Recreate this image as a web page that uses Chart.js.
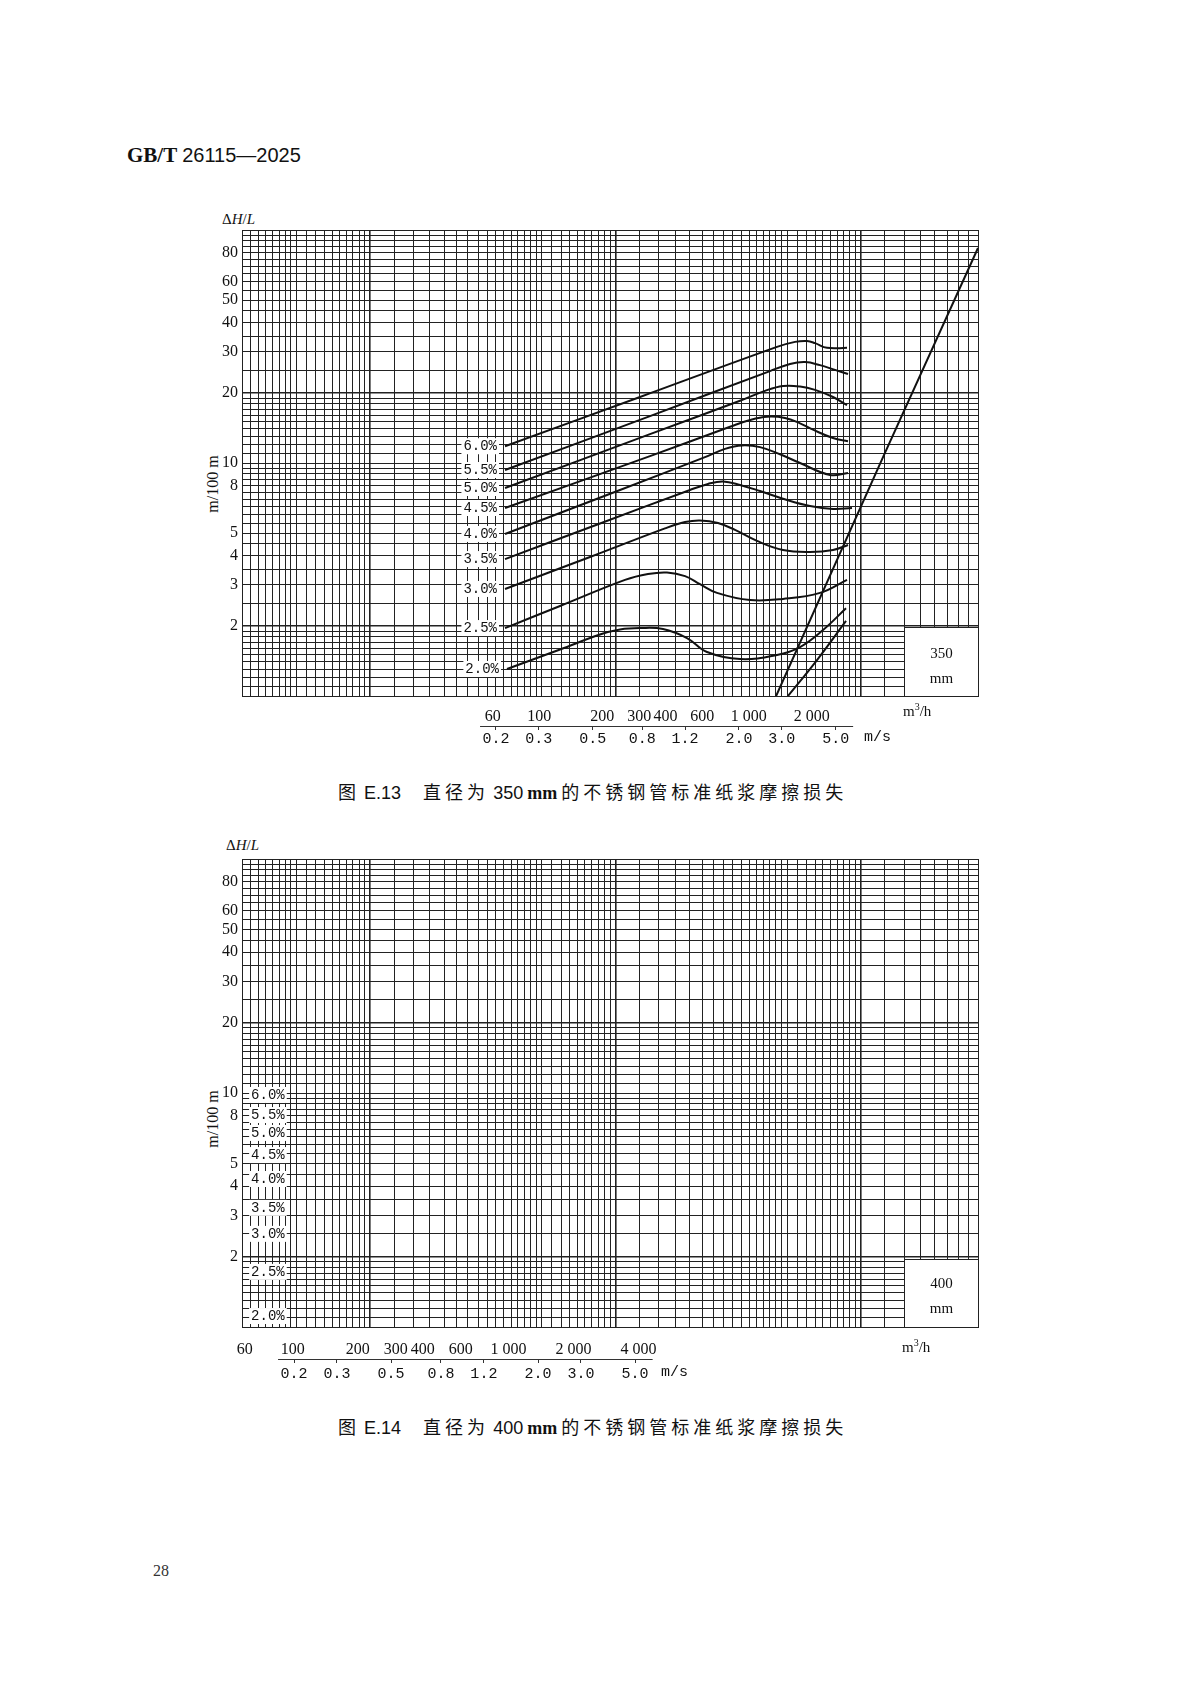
<!DOCTYPE html>
<html lang="zh">
<head>
<meta charset="utf-8">
<title>GB/T 26115—2025 图 E.13 / 图 E.14</title>
<script src="https://cdn.jsdelivr.net/npm/chart.js@4/dist/chart.umd.min.js"></script>
<style>
  html, body { margin:0; padding:0; background:#fff; }
  #page { position:relative; width:1200px; height:1696px; overflow:hidden; background:#fff; color:#111; }
  .t { position:absolute; white-space:nowrap; }
  canvas { position:absolute; left:0; }
  .hdr { font-size:20px; line-height:24px; }
  .hdr b { font-family:"Liberation Serif", serif; font-size:21px; }
  .hdr span { font-family:"Liberation Sans", sans-serif; }
  .cap { font-family:"Noto Sans CJK SC", sans-serif; font-size:18px; line-height:24px; color:#111; }
  .cap .cj { letter-spacing:4px; }
  .cap .la { font-family:"Liberation Sans", sans-serif; }
  .cap .mm { font-family:"Liberation Serif", serif; font-weight:bold; }
  .serif { font-family:"Liberation Serif", serif; font-size:15px; line-height:18px; }
  .mono { font-family:"Liberation Mono", monospace; font-size:15px; line-height:18px; }
  .box { position:absolute; box-sizing:border-box; background:#fff; border:1px solid #222;
         font-family:"Liberation Serif", serif; font-size:15px; text-align:center; }
  .box div { position:absolute; left:0; right:0; line-height:18px; }
  .ylab { font-family:"Liberation Serif", serif; font-size:16px; line-height:18px;
          transform:translate(-50%,-50%) rotate(-90deg); }
  .dh { font-family:"Liberation Serif", serif; font-size:15px; line-height:18px; }
  .pn { font-family:"Liberation Serif", serif; font-size:16px; line-height:18px; color:#333; }
</style>
</head>
<body>
<div id="page">
  <div class="t hdr" style="left:127px;top:143px;"><b>GB/T</b> <span>26115—2025</span></div>

  <!-- Figure E.13 -->
  <div class="t dh" style="left:222px;top:210px;">Δ<i>H</i>/<i>L</i></div>
  <div class="t ylab" style="left:213px;top:484px;">m/100 m</div>
  <canvas id="c350" width="1200" height="560" style="top:200px;width:1200px;height:560px;"></canvas>
  <div class="box" style="left:904px;top:627px;width:75px;height:70px;"><div style="top:16px;">350</div><div style="top:41px;">mm</div></div>
  <div class="t serif" style="left:903px;top:698px;">m<sup style="font-size:10px;">3</sup>/h</div>
  <div class="t mono" style="left:864px;top:729px;">m/s</div>
  <div class="t cap" style="left:338px;top:779px;"><span class="cj">图</span> <span class="la">E.13</span><span style="display:inline-block;width:22px;"></span><span class="cj">直径为</span> <span class="la">350</span> <span class="mm">mm</span> <span class="cj">的不锈钢管标准纸浆摩擦损失</span></div>

  <!-- Figure E.14 -->
  <div class="t dh" style="left:226px;top:836px;">Δ<i>H</i>/<i>L</i></div>
  <div class="t ylab" style="left:213px;top:1119px;">m/100 m</div>
  <canvas id="c400" width="1200" height="570" style="top:830px;width:1200px;height:570px;"></canvas>
  <div class="box" style="left:904px;top:1259px;width:75px;height:69px;"><div style="top:14px;">400</div><div style="top:39px;">mm</div></div>
  <div class="t serif" style="left:902px;top:1334px;">m<sup style="font-size:10px;">3</sup>/h</div>
  <div class="t mono" style="left:661px;top:1364px;">m/s</div>
  <div class="t cap" style="left:338px;top:1414px;"><span class="cj">图</span> <span class="la">E.14</span><span style="display:inline-block;width:22px;"></span><span class="cj">直径为</span> <span class="la">400</span> <span class="mm">mm</span> <span class="cj">的不锈钢管标准纸浆摩擦损失</span></div>

  <div class="t pn" style="left:153px;top:1562px;">28</div>
</div>

<script>
// ---------------- data ----------------
const concLabels = ['6.0%', '5.5%', '5.0%', '4.5%', '4.0%', '3.5%', '3.0%', '2.5%', '2.0%'];

const headTicks = [2, 3, 4, 5, 8, 10, 20, 30, 40, 50, 60, 80];
const flowTicks350 = [60, 100, 200, 300, 400, 600, 1000, 2000];
const flowTicks400 = [60, 100, 200, 300, 400, 600, 1000, 2000, 4000];
const velocityTicks = [0.2, 0.3, 0.5, 0.8, 1.2, 2.0, 3.0, 5.0];

// printed log-paper rulings (steps inside one decade)
const paperSteps = [1, 1.25, 1.5, 1.75, 2, 2.25, 2.5, 2.75, 3, 3.25, 3.5, 3.75, 4, 4.25, 4.5, 4.75,
                    5, 5.5, 6, 6.5, 7, 7.5, 8, 8.5, 9, 9.5];
const paperDecades = [0.1, 1, 10, 100];

// axis ranges (flow m3/h, velocity m/s, head m/100 m)
const flowRange350 = [3.81, 12416];
const velRange350 = [0.01803, 19.26];
const flowRange400 = [58.2, 149800];
const velRange400 = [0.1224, 127.2];
const velAxisSpan = [0.172, 5.9];

// Figure E.13 curves: flow (m3/h) / head loss (m/100 m)
const flow60 = [68.6, 302.5, 1363, 1662, 1896, 2070, 2362, 2943];
const head60 = [11.8, 19.2, 31.5, 33.1, 33.4, 32.7, 31.2, 31.2];
const flow55 = [68.6, 337.6, 1262, 1573, 1855, 2187, 2579, 2975];
const head55 = [9.33, 15.9, 24.8, 26.6, 27.1, 26.3, 25.1, 24.1];
const flow50 = [68.6, 337.6, 907.8, 1195, 1456, 1756, 2070, 2523, 2943];
const head50 = [7.81, 13.3, 18.5, 20.4, 21.4, 21.3, 20.6, 19.2, 17.7];
const flow45 = [68.6, 337.6, 813.5, 1013, 1222, 1489, 1756, 2025, 2523, 2975];
const head45 = [6.41, 10.7, 14.3, 15.3, 15.8, 15.6, 14.8, 13.9, 12.8, 12.4];
const flow40 = [68.6, 242.8, 617.9, 769.9, 927.9, 1131, 1409, 1756, 2441, 2975];
const head40 = [4.96, 7.66, 10.6, 11.5, 11.9, 11.7, 10.9, 10.0, 8.88, 9.06];
const flow35 = [68.6, 194.9, 524.0, 638.7, 753.2, 907.8, 1131, 1522, 1959, 2523, 3109];
const head35 = [3.87, 5.50, 7.66, 8.13, 8.33, 8.05, 7.58, 6.94, 6.54, 6.35, 6.41];
const flow30 = [68.6, 174.6, 398.1, 496.2, 584.9, 712.9, 859.4, 1094, 1456, 1959, 2523, 2975];
const head30 = [2.88, 3.95, 5.24, 5.58, 5.67, 5.53, 5.16, 4.63, 4.23, 4.15, 4.23, 4.45];
const flow25 = [68.6, 125.6, 256.5, 330.3, 406.9, 496.2, 584.9, 705.1, 1013, 1456, 2187, 2943];
const head25 = [1.957, 2.434, 3.15, 3.34, 3.39, 3.27, 3.02, 2.77, 2.58, 2.61, 2.77, 3.15];
const flow20 = [70.1, 125.6, 194.9, 242.8, 302.5, 389.4, 507.0, 631.7, 907.8, 1363, 1756, 2261, 2911];
const head20 = [1.306, 1.583, 1.836, 1.929, 1.957, 1.938, 1.773, 1.544, 1.441, 1.500, 1.622, 1.919, 2.38];
const flowLow = [1538, 2116, 2911];
const headLow = [1.0, 1.427, 2.10];
const flowLimit = [1350, 4372, 12416];
const headLimit = [1.0, 10.6, 83.7];

// Figure E.14: only the consistency tags are printed
const tagFlow400 = 100;
const tagHead400 = [9.81, 8.05, 6.75, 5.43, 4.29, 3.23, 2.50, 1.72, 1.114];

// ---------------- helpers ----------------
function paperGrid(factor, lo, hi) {
  const out = [];
  paperDecades.forEach(d => paperSteps.forEach(m => {
    const v = Math.round(d * m * factor * 1e6) / 1e6;
    if (v >= lo - 1e-9 && v <= hi + 1e-9) out.push(v);
  }));
  return out;
}
const xPaperGrid = paperGrid(1, 0.3, 300);
const yPaperGrid = paperGrid(2, 1, 100);

function isDecade(v, factor) {
  if (!v) return false;
  const l = Math.log10(v / factor);
  return Math.abs(l - Math.round(l)) < 1e-6;
}
function fmtFlow(v) {
  return String(Math.round(v)).replace(/\B(?=(\d{3})+(?!\d))/g, ' ');
}
function pts(xs, ys) { return xs.map((x, i) => ({ x: x, y: ys[i] })); }

const tagPlugin = {
  id: 'seriesTags',
  afterDatasetsDraw(chart) {
    const ctx = chart.ctx;
    ctx.save();
    ctx.font = '14px "Liberation Mono", monospace';
    ctx.textAlign = 'right';
    ctx.textBaseline = 'middle';
    chart.data.datasets.forEach((ds, i) => {
      if (!ds.tag) return;
      const p = chart.getDatasetMeta(i).data[0];
      if (!p) return;
      const w = ctx.measureText(ds.label).width;
      const x = p.x - 8, y = p.y;
      ctx.fillStyle = '#fff';
      ctx.fillRect(x - w - 2, y - 8, w + 4, 16);
      ctx.fillStyle = '#111';
      ctx.fillText(ds.label, x, y);
    });
    ctx.restore();
  }
};

const velLinePlugin = {
  id: 'velLine',
  afterDraw(chart, args, opts) {
    const s = chart.scales.xv;
    const ctx = chart.ctx;
    const y = Math.round(s.top) + 0.5;
    ctx.save();
    ctx.strokeStyle = '#333';
    ctx.lineWidth = 1.2;
    ctx.beginPath();
    ctx.moveTo(s.getPixelForValue(opts.span[0]), y);
    ctx.lineTo(s.getPixelForValue(opts.span[1]), y);
    ctx.stroke();
    ctx.restore();
  }
};

function buildChart(id, o) {
  return new Chart(document.getElementById(id), {
    type: 'line',
    data: { datasets: o.datasets },
    options: {
      responsive: false,
      animation: false,
      events: [],
      layout: { padding: { left: 0, right: 1200 - 978, top: o.padTop, bottom: 0 } },
      elements: {
        point: { radius: 0 },
        line: { borderColor: '#111', borderWidth: 2, tension: 0.4, fill: false }
      },
      plugins: {
        legend: { display: false },
        tooltip: { enabled: false },
        velLine: { span: velAxisSpan }
      },
      scales: {
        y: {
          type: 'logarithmic', position: 'left', min: 1, max: 100,
          afterBuildTicks: ax => { ax.ticks = yPaperGrid.map(v => ({ value: v })); },
          afterFit: ax => { ax.width = 242; },
          grid: { color: '#222', lineWidth: c => isDecade(c.tick && c.tick.value, 2) ? 1.6 : 1, drawTicks: false },
          border: { display: false },
          ticks: {
            autoSkip: false, padding: 4, color: '#111',
            font: { family: 'Liberation Serif', size: 16 },
            callback: v => headTicks.some(t => Math.abs(t - v) < 1e-6) ? String(Math.round(v)) : ''
          }
        },
        xg: {
          type: 'logarithmic', position: 'bottom', weight: 0, min: 0.3, max: 300,
          afterBuildTicks: ax => { ax.ticks = xPaperGrid.map(v => ({ value: v })); },
          afterFit: ax => { ax.height = 0; },
          grid: { color: '#222', lineWidth: c => isDecade(c.tick && c.tick.value, 1) ? 1.6 : 1, drawTicks: false },
          border: { display: false },
          ticks: { display: false, autoSkip: false }
        },
        x: {
          type: 'logarithmic', position: 'bottom', weight: 1, min: o.flowRange[0], max: o.flowRange[1],
          afterBuildTicks: ax => { ax.ticks = o.flowTicks.map(v => ({ value: v })); },
          afterFit: ax => { ax.height = o.flowAxisH; },
          grid: { display: false },
          border: { display: false },
          ticks: {
            autoSkip: false, maxRotation: 0, minRotation: 0, padding: o.flowPad, color: '#111',
            font: { family: 'Liberation Serif', size: 16 },
            callback: v => fmtFlow(v)
          }
        },
        xv: {
          type: 'logarithmic', position: 'bottom', weight: 2, min: o.velRange[0], max: o.velRange[1],
          afterBuildTicks: ax => { ax.ticks = velocityTicks.map(v => ({ value: v })); },
          afterFit: ax => { ax.height = o.velAxisH; },
          grid: { display: true, drawOnChartArea: false, drawTicks: true, tickLength: 4, color: '#333', lineWidth: 1 },
          border: { display: false },
          ticks: {
            autoSkip: false, maxRotation: 0, minRotation: 0, padding: o.velPad, color: '#111',
            font: { family: 'Liberation Mono', size: 15 },
            callback: v => Number(v).toFixed(1)
          }
        }
      }
    },
    plugins: [tagPlugin, velLinePlugin]
  });
}

// ---------------- Figure E.13 ----------------
const curveFlows = [flow60, flow55, flow50, flow45, flow40, flow35, flow30, flow25, flow20];
const curveHeads = [head60, head55, head50, head45, head40, head35, head30, head25, head20];
const ds350 = concLabels.map((lab, i) => ({
  label: lab, tag: true, xAxisID: 'x', yAxisID: 'y',
  data: pts(curveFlows[i], curveHeads[i])
}));
ds350.push({ label: 'lower', tag: false, xAxisID: 'x', yAxisID: 'y', data: pts(flowLow, headLow) });
ds350.push({ label: 'limit', tag: false, xAxisID: 'x', yAxisID: 'y', tension: 0, data: pts(flowLimit, headLimit) });

buildChart('c350', {
  datasets: ds350, padTop: 30,
  flowRange: flowRange350, velRange: velRange350, flowTicks: flowTicks350,
  flowAxisH: 30, velAxisH: 34, flowPad: 3, velPad: 0
});

// ---------------- Figure E.14 ----------------
const ds400 = concLabels.map((lab, i) => ({
  label: lab, tag: true, xAxisID: 'x', yAxisID: 'y', showLine: false,
  data: [{ x: tagFlow400, y: tagHead400[i] }]
}));
buildChart('c400', {
  datasets: ds400, padTop: 29,
  flowRange: flowRange400, velRange: velRange400, flowTicks: flowTicks400,
  flowAxisH: 32, velAxisH: 41, flowPad: 5, velPad: 2
});
</script>
</body>
</html>
